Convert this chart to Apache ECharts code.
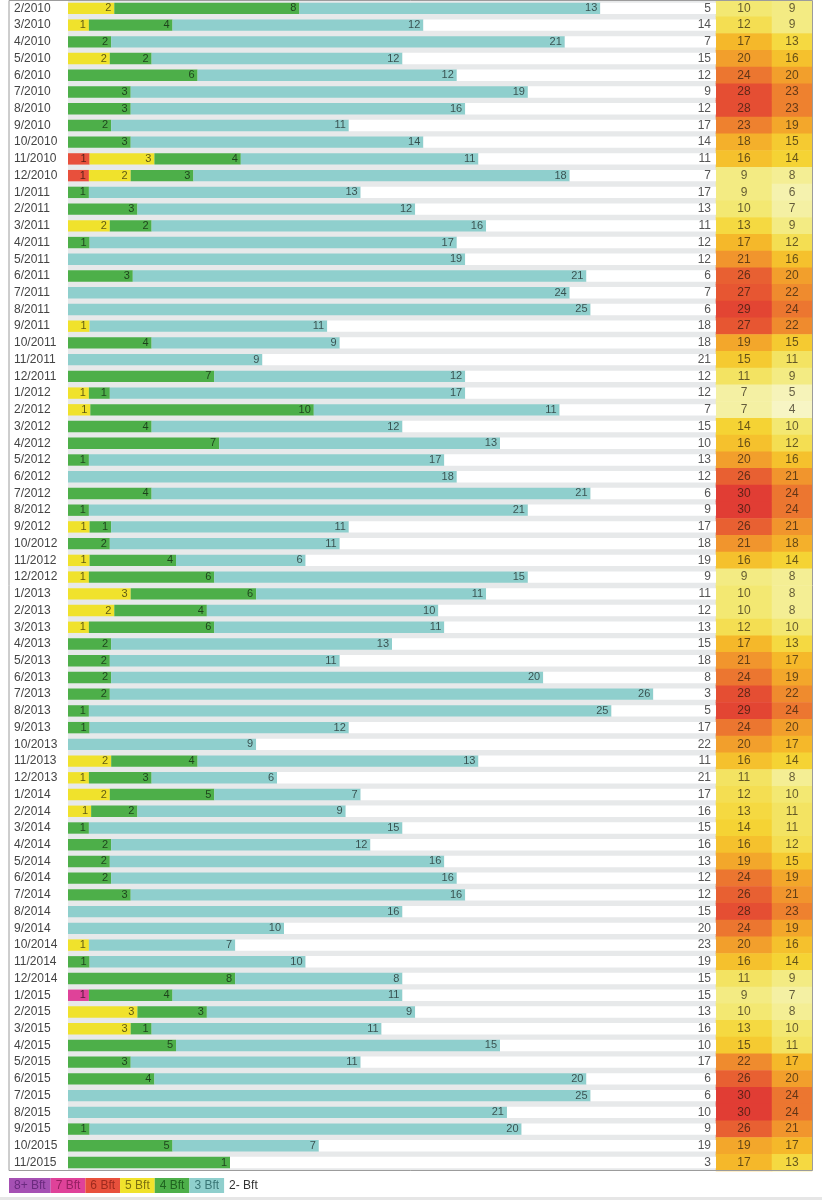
<!DOCTYPE html>
<html>
<head>
<meta charset="utf-8">
<title>Wind</title>
<script src="https://cdn.jsdelivr.net/npm/echarts@6/dist/echarts.min.js"></script>
<style>
    html, body { margin: 0; padding: 0; background: #fff; }
    #chart { width: 822px; height: 1200px; }
</style>
</head>
<body>
<div id="chart"></div>
<script>
// months shown in the table
var months = ['2/2010','3/2010','4/2010','5/2010','6/2010','7/2010','8/2010','9/2010','10/2010','11/2010','12/2010',
    '1/2011','2/2011','3/2011','4/2011','5/2011','6/2011','7/2011','8/2011','9/2011','10/2011','11/2011','12/2011',
    '1/2012','2/2012','3/2012','4/2012','5/2012','6/2012','7/2012','8/2012','9/2012','10/2012','11/2012','12/2012',
    '1/2013','2/2013','3/2013','4/2013','5/2013','6/2013','7/2013','8/2013','9/2013','10/2013','11/2013','12/2013',
    '1/2014','2/2014','3/2014','4/2014','5/2014','6/2014','7/2014','8/2014','9/2014','10/2014','11/2014','12/2014',
    '1/2015','2/2015','3/2015','4/2015','5/2015','6/2015','7/2015','8/2015','9/2015','10/2015','11/2015'];

// days per month in each Beaufort class
var bft8 = [0,0,0,0,0,0,0,0,0,0,0, 0,0,0,0,0,0,0,0,0,0,0,0, 0,0,0,0,0,0,0,0,0,0,0,0,
    0,0,0,0,0,0,0,0,0,0,0,0, 0,0,0,0,0,0,0,0,0,0,0,0, 0,0,0,0,0,0,0,0,0,0,0];
var bft7 = [0,0,0,0,0,0,0,0,0,0,0, 0,0,0,0,0,0,0,0,0,0,0,0, 0,0,0,0,0,0,0,0,0,0,0,0,
    0,0,0,0,0,0,0,0,0,0,0,0, 0,0,0,0,0,0,0,0,0,0,0,0, 1,0,0,0,0,0,0,0,0,0,0];
var bft6 = [0,0,0,0,0,0,0,0,0,1,1, 0,0,0,0,0,0,0,0,0,0,0,0, 0,0,0,0,0,0,0,0,0,0,0,0,
    0,0,0,0,0,0,0,0,0,0,0,0, 0,0,0,0,0,0,0,0,0,0,0,0, 0,0,0,0,0,0,0,0,0,0,0];
var bft5 = [2,1,0,2,0,0,0,0,0,3,2, 0,0,2,0,0,0,0,0,1,0,0,0, 1,1,0,0,0,0,0,0,1,0,1,1,
    3,2,1,0,0,0,0,0,0,0,2,1, 2,1,0,0,0,0,0,0,0,1,0,0, 0,3,3,0,0,0,0,0,0,0,0];
var bft4 = [8,4,2,2,6,3,3,2,3,4,3, 1,3,2,1,0,3,0,0,0,4,0,7, 1,10,4,7,1,0,4,1,1,2,4,6,
    6,4,6,2,2,2,2,1,1,0,4,3, 5,2,1,2,2,2,3,0,0,0,1,8, 4,3,1,5,3,4,0,0,1,5,1];
var bft3 = [13,12,21,12,12,19,16,11,14,11,18, 13,12,16,17,19,21,24,25,11,9,9,12, 17,11,12,13,17,18,21,21,11,11,6,15,
    11,10,11,13,11,20,26,25,12,9,13,6, 7,9,15,12,16,16,16,16,10,7,10,8, 11,9,11,15,11,20,25,21,20,7,0];
var bft2 = [5,14,7,15,12,9,12,17,14,11,7, 17,13,11,12,12,6,7,6,18,18,21,12, 12,7,15,10,13,12,6,9,17,18,19,9,
    11,12,13,15,18,8,3,5,17,22,11,21, 17,16,15,16,13,12,12,15,20,23,19,15, 15,13,16,10,17,6,6,10,9,19,3];

// monthly temperatures (max / min)
var tMax = [10,12,17,20,24,28,28,23,18,16,9, 9,10,13,17,21,26,27,29,27,19,15,11, 7,7,14,16,20,26,30,30,26,21,16,9,
    10,10,12,17,21,24,28,29,24,20,16,11, 12,13,14,16,19,24,26,28,24,20,16,11, 9,10,13,15,22,26,30,30,26,19,17];
var tMin = [9,9,13,16,20,23,23,19,15,14,8, 6,7,9,12,16,20,22,24,22,15,11,9, 5,4,10,12,16,21,24,24,21,18,14,8,
    8,8,10,13,17,19,22,24,20,17,14,8, 10,11,11,12,15,19,21,23,19,16,14,9, 7,8,10,11,17,20,24,24,21,17,13];

var names = ['8+ Bft', '7 Bft', '6 Bft', '5 Bft', '4 Bft', '3 Bft', '2- Bft'];
var counts = [bft8, bft7, bft6, bft5, bft4, bft3, bft2];
var colors = ['#a550b3', '#df4299', '#e8503c', '#f0e22c', '#4daf49', '#8fcfcd', '#ffffff'];
var legendText = ['#6a2a7e', '#962062', '#9c2a1e', '#7c7010', '#1f621f', '#3a7676', '#333'];

var font = 'Liberation Sans, Arial, sans-serif';
var gridTop = -2.9, gridBottom = 29.1;

// days counted in each month -> bars are shares of the month
var totals = months.map(function (m, i) {
    var s = 0;
    counts.forEach(function (c) { s += c[i]; });
    return s;
});

var series = names.map(function (n, k) {
    return {
        type: 'bar',
        name: n,
        stack: 'wind',
        xAxisIndex: 0,
        yAxisIndex: 0,
        barCategoryGap: '32%',
        silent: true,
        itemStyle: { color: colors[k] },
        label: {
            show: true,
            position: 'insideRight',
            distance: k == 6 ? 5 : 3,
            fontFamily: font,
            fontSize: k == 6 ? 12 : 11,
            color: k == 6 ? '#555' : 'rgba(0,0,0,0.62)',
            formatter: function (p) {
                var v = counts[k][p.dataIndex];
                return v ? String(v) : '';
            }
        },
        data: counts[k].map(function (v, i) { return v / totals[i] * 100; })
    };
});

function heat(arr, gi) {
    return {
        type: 'heatmap',
        xAxisIndex: gi,
        yAxisIndex: gi,
        silent: true,
        label: { show: true, fontFamily: font, fontSize: 12, color: 'rgba(30,20,10,0.68)' },
        data: arr.map(function (v, i) { return [0, i, v]; })
    };
}
series.push(heat(tMax, 1));
series.push(heat(tMin, 2));

var hiddenCat = { type: 'category', show: false, data: months, inverse: true };

var myChart = echarts.init(document.getElementById('chart'));
var option = {
    animation: false,
    grid: [
        { left: 68, right: 106, top: gridTop, bottom: gridBottom, show: true, backgroundColor: '#e7e9ea', borderWidth: 0 },
        { left: 716, width: 56, top: gridTop, bottom: gridBottom },
        { left: 772, width: 40, top: gridTop, bottom: gridBottom }
    ],
    xAxis: [
        { type: 'value', min: 0, max: 100, show: false, gridIndex: 0 },
        { type: 'category', data: ['max'], show: false, gridIndex: 1 },
        { type: 'category', data: ['min'], show: false, gridIndex: 2 }
    ],
    yAxis: [
        {
            type: 'category', data: months, inverse: true, gridIndex: 0,
            axisLine: { show: false }, axisTick: { show: false }, splitLine: { show: false },
            axisLabel: { align: 'left', margin: 54, fontFamily: font, fontSize: 12, color: '#444', interval: 0 }
        },
        Object.assign({ gridIndex: 1 }, hiddenCat),
        Object.assign({ gridIndex: 2 }, hiddenCat)
    ],
    visualMap: {
        type: 'continuous',
        show: false,
        seriesIndex: [7, 8],
        dimension: 2,
        min: 4,
        max: 30,
        inRange: { color: ['#f7f5c4', '#f4f0a0', '#f3e66a', '#f5d535', '#f5b82a', '#f29d2c', '#ed7c30', '#e75832', '#e13d34'] }
    },
    legend: {
        left: 4,
        top: 1178,
        padding: 0,
        itemWidth: 0,
        itemHeight: 0,
        itemGap: -5,
        selectedMode: false,
        data: names.map(function (n, k) {
            return {
                name: n,
                icon: 'rect',
                textStyle: {
                    fontFamily: font,
                    fontSize: 12,
                    color: legendText[k],
                    backgroundColor: k == 6 ? 'transparent' : colors[k],
                    padding: [2, 5, 1, 5]
                }
            };
        })
    },
    graphic: [
        // frame round the table
        { type: 'rect', z: 100, silent: true, shape: { x: 9, y: 0.5, width: 803.5, height: 1170 },
          style: { fill: 'none', stroke: '#9c9c9c', lineWidth: 1 } },
        { type: 'rect', z: 100, silent: true, shape: { x: 0, y: 1197, width: 822, height: 3 },
          style: { fill: '#e6e6e6' } }
    ],
    series: series
};
myChart.setOption(option);
</script>
</body>
</html>
